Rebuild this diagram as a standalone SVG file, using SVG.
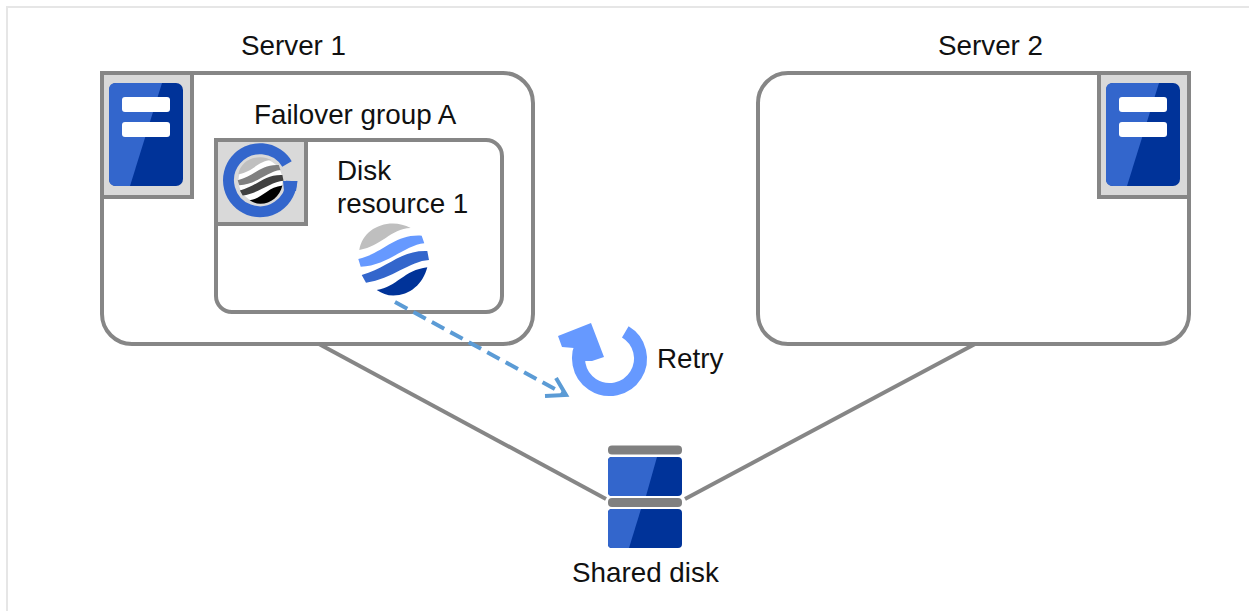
<svg xmlns="http://www.w3.org/2000/svg" width="1249" height="611" viewBox="0 0 1249 611">
<style>
.box{fill:#fff;stroke:#868686;stroke-width:4}
.tab{fill:#d9d9d9;stroke:#868686;stroke-width:4}
.link{fill:none;stroke:#868686;stroke-width:4}
.t{font-family:"Liberation Sans",Arial,sans-serif;font-size:27.800px;fill:#111}
.lt{fill:#3366cc}.dk{fill:#003399}.w{fill:#fff}.bar{fill:#808080}
</style>
<defs>
<g id="srv">
<rect x="0" y="0" width="74" height="103" rx="7" class="dk"/>
<path d="M7 0H53L21 103H7Q0 103 0 96V7Q0 0 7 0Z" class="lt"/>
<rect x="13" y="14" width="48" height="15" rx="3" class="w"/>
<rect x="13" y="39" width="48" height="15" rx="3" class="w"/>
</g>
<path id="g1" d="M359.300 250C362 234 376 223.500 393 223.500C399 223.500 405 225 410.700 228C390 229 382 246 359.300 250Z"/>
<path id="g2" d="M358.300 259C384 253 394 234 421.700 235.700L424.300 243.300C405 245 387 266 360.700 266.700Z"/>
<path id="g3" d="M361.700 275C388 268 400 250 427.300 251L429 260C410 261 392 279 366 282.700Z"/>
<path id="g4" d="M376.700 290C397 287 404 270 427.300 267.300C423 284 410 295.500 393.300 295.500C387 295.500 382 293.500 376.700 290Z"/>
</defs>
<rect width="1249" height="611" fill="#fff"/>
<path d="M7 611V7H1249" fill="none" stroke="#e6e6e6" stroke-width="2"/>
<g id="server1">
<rect class="box" x="102" y="73" width="431" height="271" rx="30"/>
<rect class="tab" x="102" y="73" width="90" height="124"/>
<use href="#srv" x="109" y="83"/>
<text class="t" x="241" y="55">Server 1</text>
</g>
<g id="server2">
<rect class="box" x="758" y="73" width="431" height="271" rx="30"/>
<rect class="tab" x="1099" y="73" width="90" height="124"/>
<use href="#srv" x="1106" y="83"/>
<text class="t" x="938" y="55">Server 2</text>
</g>
<g id="group-a">
<rect class="box" x="216" y="140" width="286" height="172" rx="16"/>
<rect class="tab" x="216" y="140" width="90" height="84"/>
<text class="t" x="254" y="124">Failover group A</text>
<path d="M291.500 181A31.500 31.500 0 1 1 287 164" fill="none" stroke="#3366cc" stroke-width="11"/>
<path d="M283 181H297.500L296 191H284Z" class="lt"/>
<g transform="translate(260.500 180.500) scale(.648) translate(-393.500 -259.500)">
<circle cx="393.500" cy="259.500" r="34" fill="#fff"/>
<use href="#g1" fill="#bfbfbf"/>
<use href="#g2" fill="#808080"/>
<use href="#g3" fill="#404040"/>
<use href="#g4" fill="#000"/>
</g>
</g>
<g id="disk-resource-1">
<text class="t" x="337" y="180">Disk</text>
<text class="t" x="337" y="213">resource 1</text>
<use href="#g1" fill="#bfbfbf"/>
<use href="#g2" fill="#6699ff"/>
<use href="#g3" class="lt"/>
<use href="#g4" class="dk"/>
</g>
<g id="retry">
<path d="M625.300 331.800A31 31 0 1 1 584.100 340.700" fill="none" stroke="#6699ff" stroke-width="13"/>
<path d="M558 336L591 323L604 357L592 361L585 361L574 348L562 347Z" fill="#6699ff"/>
<text class="t" x="657" y="368">Retry</text>
</g>
<g id="shared-disk">
<rect x="608" y="445.500" width="74" height="9" rx="4" class="bar"/>
<rect x="608" y="457" width="74" height="39" rx="4" class="dk"/>
<path d="M612 457H657L646 496H612Q608 496 608 492V461Q608 457 612 457Z" class="lt"/>
<rect x="608" y="498" width="74" height="9" rx="4" class="bar"/>
<rect x="608" y="509" width="74" height="39" rx="4" class="dk"/>
<path d="M612 509H641L629 548H612Q608 548 608 544V513Q608 509 612 509Z" class="lt"/>
<text class="t" x="572" y="582">Shared disk</text>
</g>
<g id="connectors">
<path class="link" d="M319 344L606 499"/>
<path class="link" d="M975 344L685 499"/>
<path d="M395 302L564 394" fill="none" stroke="#5b9bd5" stroke-width="4" stroke-dasharray="14 7"/>
<path d="M556 378L566 395L545 396" fill="none" stroke="#5b9bd5" stroke-width="4"/>
</g>
</svg>
